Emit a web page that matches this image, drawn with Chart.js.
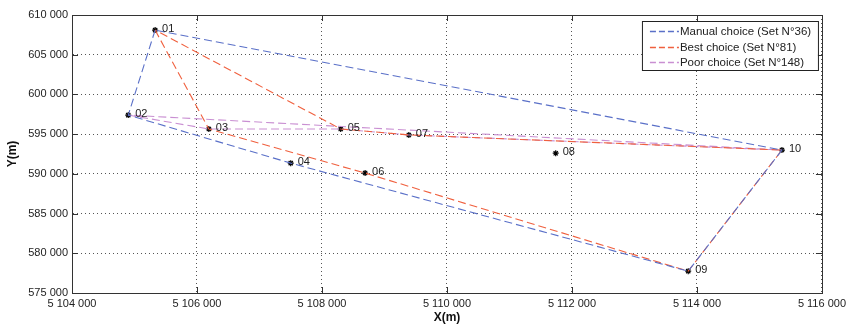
<!DOCTYPE html>
<html>
<head>
<meta charset="utf-8" />
<title>Routes</title>
<script src="https://cdn.jsdelivr.net/npm/chart.js@4.4.1/dist/chart.umd.min.js"></script>
<style>
  html, body { margin: 0; padding: 0; background: #fff; }
  #wrap { width: 850px; height: 327px; }
</style>
</head>
<body>
<div id="wrap"><canvas id="myChart"></canvas></div>
<script>
// station labels and coordinates (m)
var pointNames = ['01', '02', '03', '04', '05', '06', '07', '08', '09', '10'];
var pointX = [5105330, 5104900, 5106190, 5107500, 5108300, 5108690, 5109390, 5111740, 5113860, 5115360];
var pointY = [608100, 597400, 595650, 591350, 595650, 590100, 594900, 592600, 577750, 593000];

// routes, as station numbers
var manualRoute = [1, 2, 4, 9, 10, 1];
var bestRoute = [1, 3, 6, 9, 10, 7, 5, 1];
var poorRoute = [2, 3, 5, 7, 10, 2];

var seriesNames = ['Manual choice (Set N\u00b036)', 'Best choice (Set N\u00b081)', 'Poor choice (Set N\u00b0148)'];

var xTicks = [5104000, 5106000, 5108000, 5110000, 5112000, 5114000, 5116000];
var yTicks = [575000, 580000, 585000, 590000, 595000, 600000, 605000, 610000];

function routePoints(route) {
  return route.map(function (n) { return { x: pointX[n - 1], y: pointY[n - 1] }; });
}
function spaced(v) {
  return String(v).replace(/\B(?=(\d{3})+(?!\d))/g, ' ');
}

var font = "'Liberation Sans', Arial, sans-serif";
Chart.defaults.font.family = font;
Chart.defaults.color = '#222';

// frame, inward ticks, station names and the boxed legend
var extras = {
  id: 'extras',
  afterDatasetsDraw: function (chart) {
    var ctx = chart.ctx, a = chart.chartArea;
    var xs = chart.scales.x, ys = chart.scales.y;
    ctx.save();
    ctx.strokeStyle = '#333';
    ctx.lineWidth = 1;
    ctx.setLineDash([]);
    ctx.beginPath();
    xTicks.forEach(function (t) {
      var px = Math.round(xs.getPixelForValue(t)) + 0.5;
      ctx.moveTo(px, a.bottom); ctx.lineTo(px, a.bottom - 6);
      ctx.moveTo(px, a.top); ctx.lineTo(px, a.top + 6);
    });
    yTicks.forEach(function (t) {
      var py = Math.round(ys.getPixelForValue(t)) + 0.5;
      ctx.moveTo(a.left, py); ctx.lineTo(a.left + 6, py);
      ctx.moveTo(a.right, py); ctx.lineTo(a.right - 6, py);
    });
    ctx.stroke();
    ctx.strokeRect(Math.round(a.left) + 0.5, Math.round(a.top) + 0.5, Math.round(a.right - a.left), Math.round(a.bottom - a.top));

    ctx.fillStyle = '#222';
    ctx.font = '11px ' + font;
    ctx.textBaseline = 'middle';
    pointNames.forEach(function (name, i) {
      ctx.fillText(name, xs.getPixelForValue(pointX[i]) + 7, ys.getPixelForValue(pointY[i]) - 1);
    });

    // legend box, top right inside the plot
    var bx = a.right - 180, by = a.top + 6, bw = 176, bh = 49;
    ctx.fillStyle = '#fff';
    ctx.fillRect(bx, by, bw, bh);
    ctx.strokeStyle = '#222';
    ctx.strokeRect(bx + 0.5, by + 0.5, bw, bh);
    ctx.font = '11.5px ' + font;
    for (var i = 0; i < 3; i++) {
      var ds = chart.data.datasets[i];
      var ly = by + 10 + i * 15.5;
      ctx.strokeStyle = ds.borderColor;
      ctx.lineWidth = 1.4;
      ctx.setLineDash([6, 3]);
      ctx.beginPath();
      ctx.moveTo(bx + 8, Math.round(ly) + 0.5);
      ctx.lineTo(bx + 37, Math.round(ly) + 0.5);
      ctx.stroke();
      ctx.setLineDash([]);
      ctx.fillStyle = '#222';
      ctx.fillText(ds.label, bx + 38, ly + 1);
    }
    ctx.restore();
  }
};

var lineStyle = {
  showLine: true,
  fill: false,
  borderWidth: 1.1,
  borderDash: [8, 4],
  pointRadius: 0,
  pointHoverRadius: 0,
  backgroundColor: 'rgba(0,0,0,0)'
};

var ctx = document.getElementById('myChart').getContext('2d');
var chart = new Chart(ctx, {
  type: 'scatter',
  data: {
    datasets: [
      Object.assign({ label: seriesNames[0], data: routePoints(manualRoute), borderColor: '#5a70c8' }, lineStyle),
      Object.assign({ label: seriesNames[1], data: routePoints(bestRoute), borderColor: '#f0603e' }, lineStyle),
      Object.assign({ label: seriesNames[2], data: routePoints(poorRoute), borderColor: '#c98fd2' }, lineStyle),
      {
        label: 'stations',
        data: pointX.map(function (x, i) { return { x: x, y: pointY[i] }; }),
        showLine: false,
        pointStyle: 'star',
        pointRadius: 3,
        borderColor: '#000',
        borderWidth: 1.2,
        backgroundColor: '#000'
      }
    ]
  },
  options: {
    responsive: true,
    maintainAspectRatio: false,
    animation: false,
    layout: { padding: { top: 15, right: 28, left: 5, bottom: 2 } },
    plugins: {
      tooltip: { enabled: false },
      legend: { display: false }
    },
    scales: {
      x: {
        type: 'linear',
        min: 5104000,
        max: 5116000,
        afterBuildTicks: function (s) { s.ticks = xTicks.map(function (v) { return { value: v }; }); },
        afterFit: function (s) { s.height = 32; },
        grid: { color: '#555', lineWidth: 1, drawTicks: false },
        border: { display: true, color: '#333', dash: [1, 3] },
        ticks: { padding: 4, font: { size: 11 }, color: '#222', maxRotation: 0, callback: function (v) { return spaced(v); } },
        title: { display: true, text: 'X(m)', font: { size: 12, weight: 'bold' }, color: '#111', padding: { top: 2, bottom: 0 } }
      },
      y: {
        type: 'linear',
        min: 575000,
        max: 610000,
        afterBuildTicks: function (s) { s.ticks = yTicks.map(function (v) { return { value: v }; }); },
        afterFit: function (s) { s.width = 67; },
        grid: { color: '#555', lineWidth: 1, drawTicks: false },
        border: { display: true, color: '#333', dash: [1, 3] },
        ticks: { padding: 4, font: { size: 11 }, color: '#222', callback: function (v) { return spaced(v); } },
        title: { display: true, text: 'Y(m)', font: { size: 12, weight: 'bold' }, color: '#111', padding: { top: 0, bottom: 4 } }
      }
    }
  },
  plugins: [extras]
});
</script>
</body>
</html>
